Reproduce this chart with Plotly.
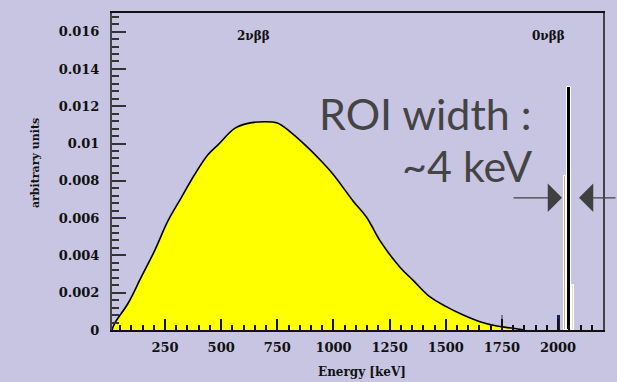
import plotly.graph_objects as go

# 2nubb continuous spectrum (energy keV, arbitrary units)
energy_2v = [14, 26, 85, 144, 204, 263, 322, 382, 441, 486, 560, 619, 690, 750, 806, 865,
             940, 999, 1088, 1148, 1207, 1296, 1355, 1430, 1504, 1578, 1652, 1727, 1800, 1850]
value_2v = [0.0, 0.00036, 0.00142, 0.00283, 0.00426, 0.00585, 0.00709, 0.00834, 0.00940,
            0.00993, 0.01081, 0.01108, 0.01117, 0.01110, 0.01064, 0.01002, 0.00913, 0.00834,
            0.00691, 0.00603, 0.00479, 0.00337, 0.00266, 0.00177, 0.00124, 0.00080, 0.00044,
            0.00021, 0.00009, 0.0]

# 0nubb peak bins
peak_e = [2030, 2049, 2068]
peak_v = [0.00824, 0.01303, 0.00240]
peak_w = [10, 16, 10]
peak_col = ["#d2a668", "#000000", "#e6dfc4"]

# small background bins
bg_e = [1750, 2002]
bg_v = [0.0008, 0.0008]
bg_col = ["#7a7a86", "#1c1c50"]

x_ticks = [250, 500, 750, 1000, 1250, 1500, 1750, 2000]
y_ticks = [0, 0.002, 0.004, 0.006, 0.008, 0.01, 0.012, 0.014, 0.016]
y_ticktext = ["0", "0.002", "0.004", "0.006", "0.008", "0.01", "0.012", "0.014", "0.016"]

BG = "#c8c5e2"
W, H = 617, 382
ML, MR, MT, MB = 112, 14, 11, 52

fig = go.Figure()
fig.add_trace(go.Scatter(x=energy_2v, y=value_2v, mode="lines", fill="tozeroy",
                         fillcolor="#ffff00", line=dict(color="#000000", width=1.6, shape="spline"),
                         hoverinfo="skip"))
fig.add_trace(go.Bar(x=bg_e, y=bg_v, width=[8, 14], marker=dict(color=bg_col, line=dict(width=0))))
fig.add_trace(go.Bar(x=peak_e, y=peak_v, width=peak_w,
                     marker=dict(color=peak_col, line=dict(color="#ffffff", width=1))))

tickfont = dict(family="DejaVu Serif", size=13, color="#111111", weight="bold")

fig.update_xaxes(range=[14, 2200], tickvals=x_ticks, ticktext=[str(v) for v in x_ticks],
                 ticks="inside", ticklen=11, tickwidth=1.5, tickcolor="#111111",
                 minor=dict(dtick=50, tick0=0, ticks="inside", ticklen=5, tickwidth=1.5, tickcolor="#111111"),
                 showline=True, linecolor="#111111", linewidth=2, mirror=True,
                 showgrid=False, zeroline=False, tickfont=tickfont, ticklabelstandoff=4)
fig.update_yaxes(range=[0, 0.017], tickvals=y_ticks, ticktext=y_ticktext,
                 ticks="inside", ticklen=14, tickwidth=1.5, tickcolor="#333333",
                 minor=dict(dtick=0.0004, tick0=0, ticks="inside", ticklen=7, tickwidth=1.5, tickcolor="#333333"),
                 showline=True, linecolor="#444444", linewidth=2, mirror=True,
                 showgrid=False, zeroline=False, tickfont=tickfont, ticklabelstandoff=8)

def px(x):
    return (x - ML) / (W - ML - MR)

def py(y):
    return 1 - (y - MT) / (H - MT - MB)

def txt(text, x, y, font, xanchor="center", angle=0):
    return dict(text=text, x=px(x), y=py(y), xref="paper", yref="paper",
                xanchor=xanchor, yanchor="middle", textangle=angle,
                showarrow=False, font=font)

serif12 = dict(family="DejaVu Serif", size=12, color="#111111", weight="bold")
big = dict(family="Lato", size=43, color="#444444")

anns = [
    txt("Energy [keV]", 362, 372, serif12),
    txt("arbitrary units", 35, 162, dict(family="DejaVu Serif", size=11, color="#111111", weight="bold"), angle=-90),
    txt("2νββ", 253, 34, serif12),
    txt("0νββ", 548, 34, serif12),
    txt("ROI width :", 534, 112, big, xanchor="right"),
    txt("~4 keV", 534, 164, big, xanchor="right"),
    dict(text="", x=px(562), y=py(197), xref="paper", yref="paper", ax=-50, ay=0,
         showarrow=True, arrowhead=1, arrowsize=3.4, arrowwidth=1.4, arrowcolor="#404040"),
    dict(text="", x=px(579), y=py(197), xref="paper", yref="paper", ax=40, ay=0,
         showarrow=True, arrowhead=1, arrowsize=3.4, arrowwidth=1.4, arrowcolor="#404040"),
]

fig.update_layout(width=W, height=H, margin=dict(l=ML, r=MR, t=MT, b=MB),
                  paper_bgcolor=BG, plot_bgcolor=BG, showlegend=False,
                  barmode="overlay", bargap=0, annotations=anns)

fig.write_html("out.html", config={"displayModeBar": False},
               post_script="document.body.style.margin='0px';document.body.style.background='%s';" % BG)
